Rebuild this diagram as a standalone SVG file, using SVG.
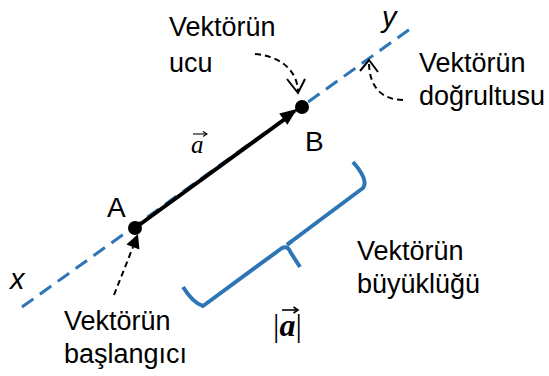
<svg xmlns="http://www.w3.org/2000/svg" width="549" height="376" viewBox="0 0 549 376">
<style>
.t{font-family:"Liberation Sans",Arial,sans-serif;font-size:27px;fill:#000}
.lbl{font-family:"Liberation Sans",Arial,sans-serif;font-size:28px;fill:#000}
.it{font-family:"Liberation Sans",Arial,sans-serif;font-size:29px;font-style:italic;fill:#000}
.dash{fill:none;stroke:#000;stroke-width:2;stroke-dasharray:6 4}
.open{fill:none;stroke:#000;stroke-width:2}
</style>
<rect width="549" height="376" fill="#fff"/>
<g id="connectors">
  <line id="line-xy" x1="22" y1="307" x2="410" y2="29" stroke="#2E75B6" stroke-width="3" stroke-dasharray="14 8"/>
  <g id="vector-a">
    <line x1="135" y1="228" x2="285" y2="119" stroke="#000" stroke-width="4"/>
    <polygon points="297,109 279.2,113.5 287.4,124.7" fill="#000"/>
  </g>
  <g id="arrow-ucu">
    <path class="dash" d="M255,54 C280,56 297,70 298,91"/>
    <polyline class="open" points="287,79 298,93 305,79"/>
  </g>
  <g id="arrow-dogrultu">
    <path class="dash" d="M403,100 C385,100 369,90 369,62"/>
    <polyline class="open" points="360,71 369,60 378,72"/>
  </g>
  <g id="arrow-baslangic">
    <line class="dash" x1="114" y1="295" x2="133" y2="247" stroke-width="2.5"/>
    <polygon points="138,234 126.4,244.4 139.4,249.6" fill="#000"/>
  </g>
  <path id="brace" d="M183,287 Q193,303 203,306 L282,248 Q288,245 291,253 L300,267 M287,245 Q289,243 292,241 L363,188 Q369,180 353,162" fill="none" stroke="#2E75B6" stroke-width="4" stroke-linejoin="round"/>
</g>
<g id="node-A">
  <circle cx="135" cy="228" r="7" fill="#000"/>
  <text class="lbl" x="107" y="217">A</text>
</g>
<g id="node-B">
  <circle cx="302" cy="107" r="7" fill="#000"/>
  <text class="lbl" x="305" y="151">B</text>
</g>
<g id="label-x"><text class="it" x="10" y="289">x</text></g>
<g id="label-y"><text class="it" x="382" y="27">y</text></g>
<g id="label-a">
  <text x="191" y="153" font-family="Liberation Serif,serif" font-style="italic" font-size="25">a</text>
  <line x1="193" y1="134" x2="206" y2="134" stroke="#000" stroke-width="1.1"/>
  <polyline points="203,131.5 207,134 203,136.5" fill="none" stroke="#000" stroke-width="1.1"/>
</g>
<g id="label-ucu">
  <text class="t" x="169" y="36">Vektörün</text>
  <text class="t" x="169" y="72">ucu</text>
</g>
<g id="label-dogrultusu">
  <text class="t" x="419" y="72">Vektörün</text>
  <text class="t" x="419" y="105">doğrultusu</text>
</g>
<g id="label-baslangici">
  <text class="t" x="64" y="330">Vektörün</text>
  <text class="t" x="64" y="363">başlangıcı</text>
</g>
<g id="label-buyuklugu">
  <text class="t" x="357" y="260">Vektörün</text>
  <text class="t" x="357" y="293">büyüklüğü</text>
</g>
<g id="label-norm">
  <text x="273" y="336" font-family="Liberation Serif,serif" font-size="32">|<tspan font-weight="bold" font-style="italic">a</tspan>|</text>
  <line x1="282" y1="310" x2="297" y2="310" stroke="#000" stroke-width="1.6"/>
  <polyline points="293.5,307 298,310 293.5,313" fill="none" stroke="#000" stroke-width="1.6"/>
</g>
</svg>
